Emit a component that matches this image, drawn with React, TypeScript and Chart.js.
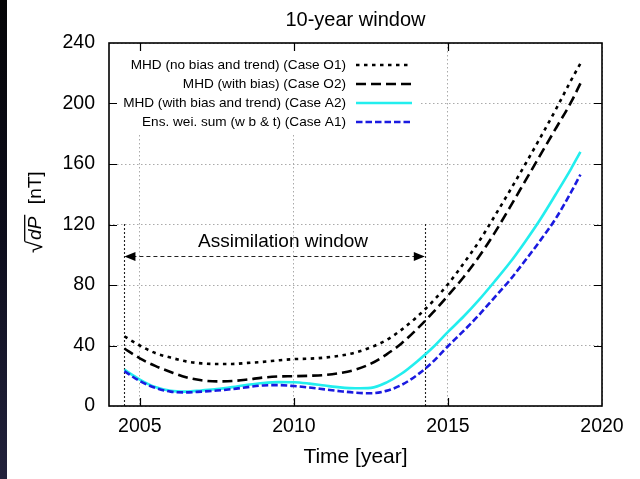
import React, { useEffect, useRef } from "react";
import { Chart, registerables } from "chart.js";

Chart.register(...registerables);

const FONT = "'Liberation Sans', Arial, Helvetica, sans-serif";

// ---- data ----
const years = [
  2004.5, 2005, 2005.5, 2006, 2006.5, 2007, 2007.5, 2008, 2008.5, 2009, 2009.5,
  2010, 2010.5, 2011, 2011.5, 2012, 2012.5, 2013, 2013.5, 2014, 2014.5,
  2015, 2015.5, 2016, 2016.5, 2017, 2017.5, 2018, 2018.5, 2019, 2019.3,
];
const caseO1 = [
  46, 40, 35, 32, 29.5, 28.2, 27.8, 27.8, 28.5, 29.2, 30.2,
  31, 31.3, 32, 33.3, 35.3, 38.8, 43.5, 50.5, 59, 69,
  80.5, 94, 108.5, 125, 142, 159.5, 177.5, 196, 215.5, 226.5,
];
const caseO2 = [
  38, 31.5, 26.5, 22.5, 19, 17, 16.3, 16.5, 17.5, 18.8, 19.5,
  19.7, 20, 20.5, 21.8, 24, 28, 34, 41.5, 51, 61.5,
  73, 85, 98.5, 114, 131, 148.5, 166, 183.5, 201, 213.3,
];
const caseA2 = [
  24, 17.5, 12.5, 10, 9.5, 10.3, 11.2, 12.5, 14, 15.2, 15.8,
  15.7, 14.8, 13.5, 12.3, 11.7, 12, 15.5, 21.5, 29.5, 38.5,
  49, 59, 70, 82, 94.5, 108.5, 123.5, 140, 157, 168,
];
const caseA1 = [
  23, 16.5, 12, 9.5, 9, 9.5, 10.2, 11.2, 12.5, 13.6, 13.8,
  13.2, 12.2, 11, 9.8, 8.8, 8.4, 10, 14, 20.5, 29,
  39.5, 49.5, 60, 71.5, 83, 96, 109.5, 124, 141.5, 153,
];
const seriesLabels = [
  "MHD (no bias and trend) (Case O1)",
  "MHD (with bias) (Case O2)",
  "MHD (with bias and trend) (Case A2)",
  "Ens. wei. sum (w b & t) (Case A1)",
];
const xTickValues = [2005, 2010, 2015, 2020];
const yTickValues = [0, 40, 80, 120, 160, 200, 240];
const chartTitle = "10-year window";
const xTitle = "Time [year]";
const windowStart = 2004.5;
const windowEnd = 2014.25;
const windowTop = 121;
const arrowLevel = 99;
const windowLabel = "Assimilation window";
const windowLabelX = 2009.65;
const windowLabelY = 108.5;

const styles = [
  { color: "#000000", dash: [3.5, 4.5], width: 2.6 },
  { color: "#000000", dash: [10, 5], width: 2.6 },
  { color: "#22eeee", dash: [], width: 2.6 },
  { color: "#1a1ae0", dash: [6.5, 3], width: 2.6 },
];
const seriesValues = [caseO1, caseO2, caseA2, caseA1];

const decor = {
  id: "decor",
  beforeDraw(chart: any) {
    const { ctx, width, height } = chart;
    ctx.save();
    ctx.fillStyle = "#ffffff";
    ctx.fillRect(0, 0, width, height);
    const g = ctx.createLinearGradient(0, 0, 0, height);
    g.addColorStop(0, "#050507");
    g.addColorStop(0.5, "#0d0d1c");
    g.addColorStop(1, "#22223c");
    ctx.fillStyle = g;
    ctx.fillRect(0, 0, 7, height);
    ctx.restore();
  },
  beforeDatasetsDraw(chart: any) {
    const { ctx, chartArea: a, scales } = chart;
    const xs = scales.x;
    const ys = scales.y;
    ctx.save();
    // legend background (opaque key)
    ctx.fillStyle = "#ffffff";
    ctx.fillRect(a.left + 1, a.top + 1, 420 - a.left, 133 - a.top);
    // assimilation window markers
    ctx.strokeStyle = "#222";
    ctx.lineWidth = 1.1;
    ctx.setLineDash([2, 2]);
    for (const v of [windowStart, windowEnd]) {
      const px = Math.round(xs.getPixelForValue(v)) + 0.5;
      ctx.beginPath();
      ctx.moveTo(px, ys.getPixelForValue(0));
      ctx.lineTo(px, ys.getPixelForValue(windowTop));
      ctx.stroke();
    }
    const x1 = xs.getPixelForValue(windowStart);
    const x2 = xs.getPixelForValue(windowEnd);
    const ay = Math.round(ys.getPixelForValue(arrowLevel)) + 0.5;
    ctx.setLineDash([4, 3]);
    ctx.lineWidth = 1.1;
    ctx.beginPath();
    ctx.moveTo(x1 + 8, ay);
    ctx.lineTo(x2 - 8, ay);
    ctx.stroke();
    ctx.setLineDash([]);
    ctx.fillStyle = "#000";
    ctx.beginPath();
    ctx.moveTo(x1, ay);
    ctx.lineTo(x1 + 11, ay - 4.5);
    ctx.lineTo(x1 + 11, ay + 4.5);
    ctx.closePath();
    ctx.fill();
    ctx.beginPath();
    ctx.moveTo(x2, ay);
    ctx.lineTo(x2 - 11, ay - 4.5);
    ctx.lineTo(x2 - 11, ay + 4.5);
    ctx.closePath();
    ctx.fill();
    ctx.font = `19px ${FONT}`;
    ctx.textAlign = "center";
    ctx.textBaseline = "middle";
    ctx.fillText(windowLabel, xs.getPixelForValue(windowLabelX), ys.getPixelForValue(windowLabelY));
    ctx.restore();
  },
  afterDraw(chart: any) {
    const { ctx, chartArea: a, scales } = chart;
    const xs = scales.x;
    const ys = scales.y;
    ctx.save();
    // frame
    ctx.strokeStyle = "#000";
    ctx.lineWidth = 1.6;
    ctx.setLineDash([]);
    ctx.strokeRect(a.left, a.top, a.right - a.left, a.bottom - a.top);
    // inward ticks
    ctx.lineWidth = 1.2;
    const tl = 8;
    ctx.beginPath();
    for (const v of xTickValues) {
      if (v <= xs.min || v >= xs.max) continue;
      const px = Math.round(xs.getPixelForValue(v)) + 0.5;
      ctx.moveTo(px, a.bottom);
      ctx.lineTo(px, a.bottom - tl);
      ctx.moveTo(px, a.top);
      ctx.lineTo(px, a.top + tl);
    }
    for (const v of yTickValues) {
      if (v <= ys.min || v >= ys.max) continue;
      const py = Math.round(ys.getPixelForValue(v)) + 0.5;
      ctx.moveTo(a.left, py);
      ctx.lineTo(a.left + tl, py);
      ctx.moveTo(a.right, py);
      ctx.lineTo(a.right - tl, py);
    }
    ctx.stroke();

    // legend
    const rows = [65, 84, 103, 122];
    ctx.font = `13.6px ${FONT}`;
    ctx.textAlign = "right";
    ctx.textBaseline = "middle";
    ctx.fillStyle = "#000";
    rows.forEach((ry, i) => {
      ctx.fillText(seriesLabels[i], 346, ry);
      const s = styles[i];
      ctx.strokeStyle = s.color;
      ctx.lineWidth = s.width;
      ctx.setLineDash(s.dash);
      ctx.beginPath();
      ctx.moveTo(356, ry);
      ctx.lineTo(412, ry);
      ctx.stroke();
    });
    ctx.setLineDash([]);

    // titles
    const cx = (a.left + a.right) / 2;
    ctx.textAlign = "center";
    ctx.textBaseline = "middle";
    ctx.fillStyle = "#000";
    ctx.font = `20px ${FONT}`;
    ctx.fillText(chartTitle, cx, 20);
    ctx.font = `21px ${FONT}`;
    ctx.fillText(xTitle, cx, 457);

    // y title: sqrt(dP) [nT]
    ctx.translate(35, 207);
    ctx.rotate(-Math.PI / 2);
    ctx.textAlign = "left";
    ctx.textBaseline = "alphabetic";
    const base = 6;
    let x = -46;
    ctx.font = `22px ${FONT}`;
    const m = ctx.measureText("\u221A");
    ctx.fillText("\u221A", x, base + 1);
    const topY = base + 1 - m.actualBoundingBoxAscent;
    x += m.width;
    ctx.font = `italic 19px ${FONT}`;
    const dw = ctx.measureText("dP").width;
    ctx.fillText("dP", x + 1, base);
    ctx.strokeStyle = "#000";
    ctx.lineWidth = 1.3;
    ctx.beginPath();
    ctx.moveTo(x - 0.5, topY + 0.7);
    ctx.lineTo(x + dw + 3, topY + 0.7);
    ctx.stroke();
    x += dw + 3;
    ctx.font = `19px ${FONT}`;
    ctx.fillText("  [nT]", x, base);
    ctx.restore();
  },
};

export default function App() {
  const ref = useRef<HTMLCanvasElement>(null);
  useEffect(() => {
    const canvas = ref.current;
    if (!canvas) return;
    const datasets = seriesValues.map((vals, i) => ({
      label: seriesLabels[i],
      data: years.map((x, j) => ({ x, y: vals[j] })),
      borderColor: styles[i].color,
      backgroundColor: styles[i].color,
      borderWidth: styles[i].width,
      borderDash: styles[i].dash,
      pointRadius: 0,
      fill: false,
      cubicInterpolationMode: "monotone" as const,
      order: i === 3 ? 0 : 4 - i,
    }));
    const chart = new Chart(canvas, {
      type: "line",
      data: { datasets },
      options: {
        animation: false,
        responsive: false,
        layout: { padding: { left: 0, right: 38, top: 43, bottom: 0 } },
        plugins: { legend: { display: false }, title: { display: false }, tooltip: { enabled: false } },
        scales: {
          x: {
            type: "linear",
            min: 2004,
            max: 2020,
            afterFit: (s: any) => { s.height = 73; },
            afterBuildTicks: (s: any) => { s.ticks = xTickValues.map((v) => ({ value: v })); },
            grid: { display: true, color: "#aaaaaa", lineWidth: 1, drawTicks: false },
            border: { display: false, dash: [1.5, 2.5] },
            ticks: {
              padding: 9,
              color: "#000",
              font: { family: FONT, size: 19.5 },
              maxRotation: 0,
              callback: (v: any) => String(v),
            },
          },
          y: {
            type: "linear",
            min: 0,
            max: 240,
            afterFit: (s: any) => { s.width = 109; },
            afterBuildTicks: (s: any) => { s.ticks = yTickValues.map((v) => ({ value: v })); },
            grid: { display: true, color: "#aaaaaa", lineWidth: 1, drawTicks: false },
            border: { display: false, dash: [1.5, 2.5] },
            ticks: {
              padding: 14,
              color: "#000",
              font: { family: FONT, size: 19.5 },
              callback: (v: any) => String(v),
            },
          },
        },
      },
      plugins: [decor],
    });
    return () => chart.destroy();
  }, []);
  return (
    <div style={{ position: "fixed", left: 0, top: 0, width: 640, height: 479, background: "#fff" }}>
      <canvas ref={ref} width={640} height={479} style={{ display: "block", width: 640, height: 479 }} />
    </div>
  );
}
